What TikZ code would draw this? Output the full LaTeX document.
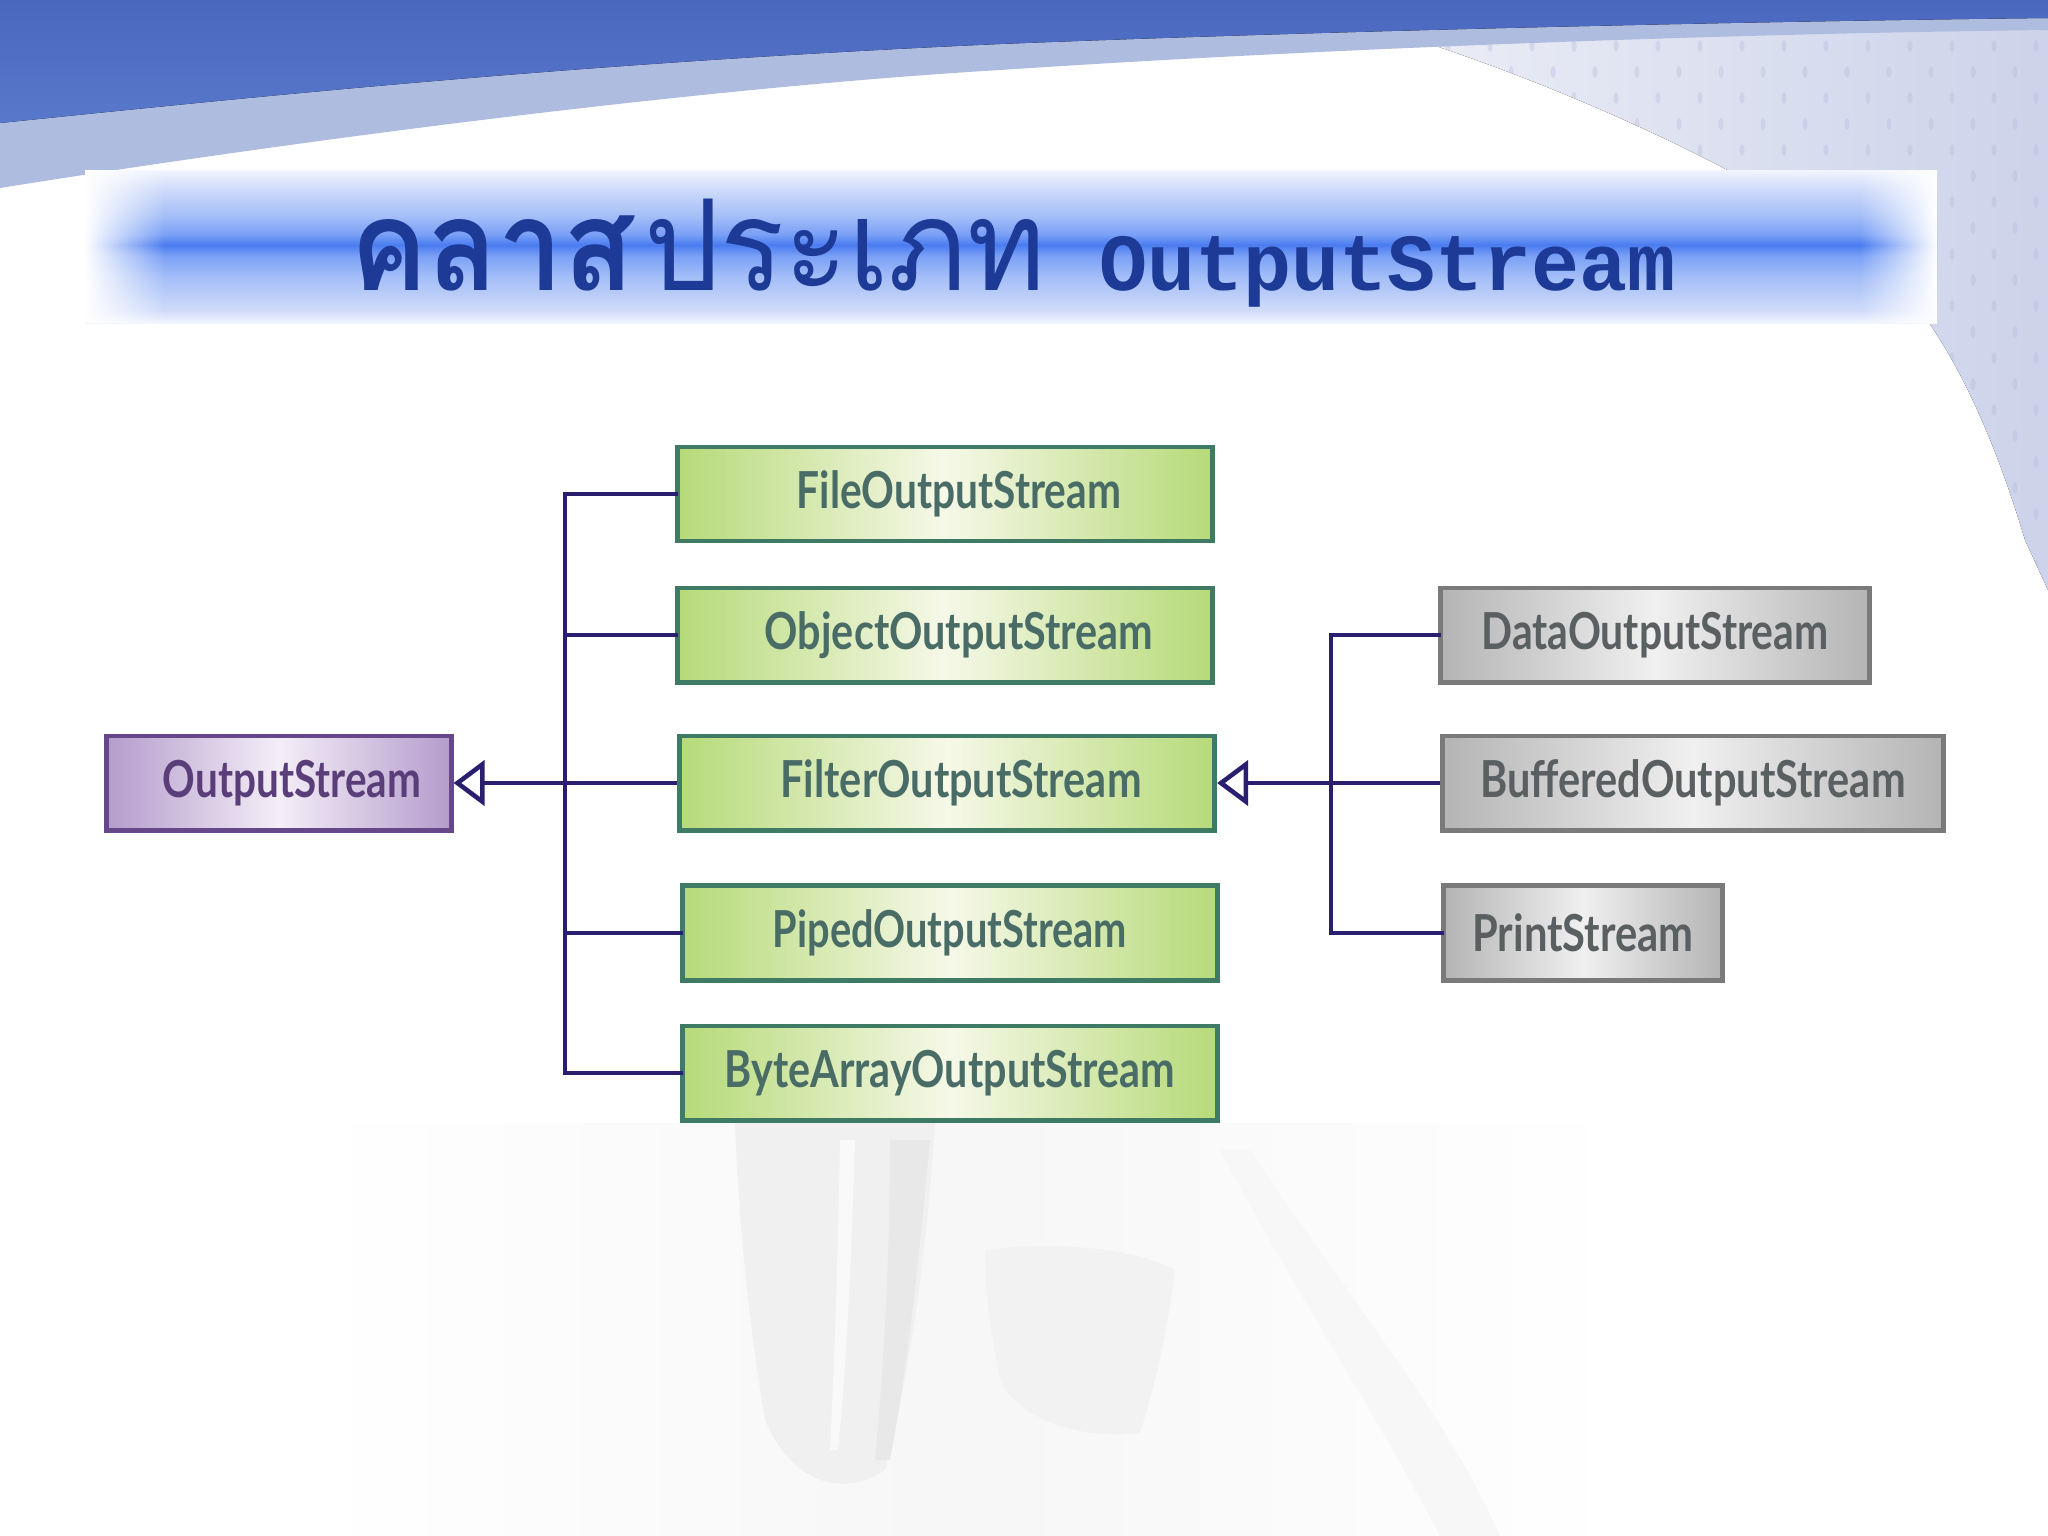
\documentclass[tikz,border=0pt]{standalone}
\usepackage{fontspec}
\usepackage{graphicx}
\usetikzlibrary{arrows.meta,fadings,shadings}
\setmainfont{Lato}
\newfontfamily\lblfont{Lato}
\newfontfamily\thaifont[Script=Thai]{Loma}
\newfontfamily\titlemono{Liberation Mono}

\definecolor{navy}{HTML}{2A1F6E}
\definecolor{titleblue}{HTML}{1C3A96}
\definecolor{gborder}{HTML}{3E7A64}
\definecolor{gfill}{HTML}{B6DA78}
\definecolor{gmid}{HTML}{F6F8E8}
\definecolor{gtext}{HTML}{4A6C66}
\definecolor{pborder}{HTML}{66488A}
\definecolor{pfill}{HTML}{B49CCC}
\definecolor{pmid}{HTML}{F4EEF7}
\definecolor{ptext}{HTML}{5A3E7A}
\definecolor{sborder}{HTML}{7A7A7A}
\definecolor{sfill}{HTML}{B4B4B4}
\definecolor{smid}{HTML}{F0F0F0}
\definecolor{stext}{HTML}{5A5F62}
\definecolor{darkband}{HTML}{4A68BE}
\definecolor{darkband2}{HTML}{5878CC}
\definecolor{lightband}{HTML}{AEBCDF}
\definecolor{patl}{HTML}{EEF0F7}
\definecolor{patr}{HTML}{CCD3EA}
\definecolor{patdot}{HTML}{B2BCDA}
\definecolor{bw}{HTML}{F2F5FE}
\definecolor{bA}{HTML}{D0DCFA}
\definecolor{bB}{HTML}{A4BEF8}
\definecolor{bC}{HTML}{7AA0F6}
\definecolor{bD}{HTML}{4A7CF0}

\pgfdeclareverticalshading{bannershade}{100bp}{color(0bp)=(bw); color(25bp)=(bw); color(29bp)=(bA); color(40bp)=(bB); color(47bp)=(bC); color(50.5bp)=(bD); color(54bp)=(bC); color(60bp)=(bB); color(69bp)=(bA); color(75bp)=(bw); color(100bp)=(bw)}
\tikzfading[name=fadetoright, left color=transparent!0, right color=transparent!100]
\tikzfading[name=fadetoleft, left color=transparent!100, right color=transparent!0]
\tikzfading[name=softsides, left color=transparent!100, right color=transparent!100, middle color=transparent!0]

\newlength\fitlen
\newcommand\fitw[2]{\settowidth\fitlen{#2}\pgfmathsetmacro\fitfac{#1/\fitlen}\scalebox{\fitfac}[1]{#2}}

\tikzset{
  box/.style={draw, line width=1.4pt, inner sep=0pt, minimum height=0.94cm,
    font=\lblfont\bfseries\fontsize{14.5}{16}\selectfont},
  gbox/.style={box, draw=gborder, left color=gfill, right color=gfill, middle color=gmid, text=gtext},
  pbox/.style={box, draw=pborder, left color=pfill, right color=pfill, middle color=pmid, text=ptext},
  sbox/.style={box, draw=sborder, left color=sfill, right color=sfill, middle color=smid, text=stext},
  conn/.style={draw=navy, line width=1.3pt, line cap=rect},
  inh/.style={draw=navy, line width=1.3pt, -{Triangle[open, length=0.31cm, width=0.45cm, line width=1.3pt]}},
}

\begin{document}
\begin{tikzpicture}[x=0.01cm, y=-0.01cm]
\useasboundingbox (0,0) rectangle (2048,1536);
\fill[white] (0,0) rectangle (2048,1536);

% right textured region
\begin{scope}
  \clip (1380,28) .. controls (1600,95) and (1800,200) .. (1880,265)
        .. controls (1950,330) and (1995,440) .. (2025,540) -- (2048,590) -- (2048,0) -- cycle;
  \fill[left color=patl, right color=patr] (1350,0) rectangle (2048,620);
  \foreach \i in {0,...,16} \foreach \j in {0,...,23} {
    \fill[patdot, opacity=0.35] ({1385+\i*42+mod(\j,2)*21},{20+\j*26}) ellipse (2.5 and 6);
  }
\end{scope}

% top bands
\fill[lightband] (0,0) -- (2048,0) -- (2048,30) .. controls (1700,34) and (1300,50) .. (1000,70)
   .. controls (700,88) and (300,140) .. (0,188) -- cycle;
\fill[top color=darkband, bottom color=darkband2] (0,0) -- (2048,0) -- (2048,18) .. controls (1700,22) and (1300,32) .. (1000,44)
   .. controls (600,62) and (300,92) .. (0,123) -- cycle;

% faint ghost image at the bottom
\fill[black!3, path fading=softsides] (352,1123) rectangle (1586,1536);
\fill[black!6] (735,1123) -- (935,1123) .. controls (925,1280) and (905,1390) .. (885,1470)
   .. controls (840,1500) and (790,1480) .. (765,1420) .. controls (745,1300) and (738,1200) .. cycle;
\fill[black!9] (890,1140) -- (930,1140) .. controls (915,1300) and (905,1380) .. (890,1460) -- (875,1460) .. controls (885,1350) and (890,1250) .. cycle;
\fill[white, opacity=0.6] (840,1140) -- (855,1140) .. controls (850,1300) and (845,1380) .. (838,1450) -- (830,1450) .. controls (835,1350) and (838,1250) .. cycle;
\fill[black!5] (985,1250) .. controls (1060,1240) and (1140,1250) .. (1175,1270)
   .. controls (1165,1350) and (1150,1400) .. (1140,1433) .. controls (1080,1440) and (1020,1420) .. (1000,1380)
   .. controls (990,1330) and (985,1290) .. cycle;
\fill[black!3] (1250,1150) .. controls (1350,1300) and (1450,1420) .. (1500,1536) -- (1440,1536) .. controls (1380,1420) and (1300,1300) .. (1220,1150) -- cycle;

% title banner
\shade[shading=bannershade] (85,170) rectangle (1937,323);
\fill[white, path fading=fadetoright] (85,170) rectangle (165,323);
\fill[white, path fading=fadetoleft] (1860,170) rectangle (1937,323);
\node[anchor=base west, inner sep=0pt, text=titleblue, font=\thaifont\bfseries\fontsize{36}{40}\selectfont] (t1) at (350,290) {\fitw{2.83cm}{คลาส}};
\node[anchor=base west, inner sep=0pt, text=titleblue, font=\thaifont\fontsize{36}{40}\selectfont] (t2) at (644,290) {\fitw{4.01cm}{ประเภท}};
\node[anchor=base west, inner sep=0pt, text=titleblue, font=\titlemono\bfseries\fontsize{23}{26}\selectfont] (t3) at (1099,290) {\fitw{5.76cm}{OutputStream}};

% boxes
\node[pbox, minimum width=3.44cm] (os) at (279,783) {\hspace*{0.26cm}\fitw{2.58cm}{OutputStream}};
\node[gbox, minimum width=5.34cm] (fos) at (945,494) {\hspace*{0.28cm}\fitw{3.24cm}{FileOutputStream}};
\node[gbox, minimum width=5.34cm] (oos) at (945,635) {\hspace*{0.28cm}\fitw{3.88cm}{ObjectOutputStream}};
\node[gbox, minimum width=5.35cm] (filt) at (947,783) {\hspace*{0.28cm}\fitw{3.61cm}{FilterOutputStream}};
\node[gbox, minimum width=5.34cm, minimum height=0.95cm] (pos) at (950,933) {\fitw{3.54cm}{PipedOutputStream}};
\node[gbox, minimum width=5.34cm] (baos) at (950,1073) {\fitw{4.50cm}{ByteArrayOutputStream}};
\node[sbox, minimum width=4.28cm] (dos) at (1655,635) {\fitw{3.47cm}{DataOutputStream}};
\node[sbox, minimum width=5.00cm] (bos) at (1693,783) {\fitw{4.25cm}{BufferedOutputStream}};
\node[sbox, minimum width=2.78cm, minimum height=0.95cm] (ps) at (1583,933) {\fitw{2.21cm}{PrintStream}};

% left hierarchy
\coordinate (lt) at (565,0);
\draw[conn] (fos.west -| lt) -- (baos.west -| lt);
\draw[conn] (fos.west) -- (fos.west -| lt);
\draw[conn] (oos.west) -- (oos.west -| lt);
\draw[conn] (pos.west) -- (pos.west -| lt);
\draw[conn] (baos.west) -- (baos.west -| lt);
\draw[inh] (filt.west) -- (os.east);

% right hierarchy
\coordinate (rt) at (1331,0);
\draw[conn] (dos.west -| rt) -- (ps.west -| rt);
\draw[conn] (dos.west) -- (dos.west -| rt);
\draw[conn] (ps.west) -- (ps.west -| rt);
\draw[inh] (bos.west) -- (filt.east);
\end{tikzpicture}
\end{document}
